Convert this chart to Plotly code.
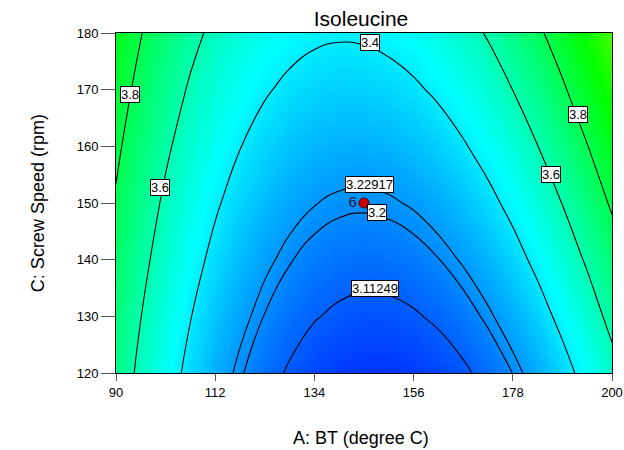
import plotly.graph_objects as go

# A: BT (degree C) and C: Screw Speed (rpm) grid
bt_values = [90, 95.5, 101, 106.5, 112, 117.5, 123, 128.5, 134, 139.5, 145,
             150.5, 156, 161.5, 167, 172.5, 178, 183.5, 189, 194.5, 200]
speed_values = [120, 130, 140, 150, 160, 170, 180]

# estimated Isoleucine response, one row per screw speed
isoleucine = [
    [3.687, 3.568, 3.460, 3.365, 3.281, 3.209, 3.149, 3.101, 3.065, 3.041, 3.028,
     3.027, 3.038, 3.061, 3.096, 3.143, 3.201, 3.271, 3.353, 3.447, 3.553],
    [3.718, 3.602, 3.497, 3.404, 3.323, 3.254, 3.197, 3.152, 3.118, 3.097, 3.087,
     3.089, 3.103, 3.128, 3.166, 3.215, 3.276, 3.349, 3.434, 3.531, 3.640],
    [3.751, 3.638, 3.536, 3.446, 3.368, 3.302, 3.247, 3.205, 3.174, 3.155, 3.148,
     3.153, 3.169, 3.198, 3.238, 3.290, 3.354, 3.430, 3.518, 3.617, 3.728],
    [3.787, 3.676, 3.577, 3.490, 3.415, 3.351, 3.300, 3.260, 3.232, 3.216, 3.211,
     3.219, 3.238, 3.269, 3.312, 3.367, 3.434, 3.513, 3.603, 3.705, 3.819],
    [3.825, 3.717, 3.621, 3.536, 3.464, 3.403, 3.354, 3.317, 3.292, 3.278, 3.277,
     3.287, 3.309, 3.343, 3.389, 3.447, 3.516, 3.598, 3.691, 3.796, 3.913],
    [3.865, 3.760, 3.667, 3.585, 3.515, 3.457, 3.411, 3.377, 3.354, 3.344, 3.345,
     3.358, 3.383, 3.419, 3.468, 3.528, 3.601, 3.685, 3.781, 3.889, 4.008],
    [3.908, 3.805, 3.715, 3.636, 3.569, 3.513, 3.470, 3.439, 3.419, 3.411, 3.415,
     3.431, 3.458, 3.498, 3.549, 3.612, 3.687, 3.774, 3.873, 3.984, 4.106],
]

contour_levels = [3.11249, 3.2, 3.22917, 3.4, 3.6, 3.8]

# contour label text and where it sits (x, y in data units)
label_texts = ["3.8", "3.6", "3.4", "3.22917", "3.2", "3.11249", "3.8", "3.6"]
label_x = [93.0, 99.8, 146.3, 146.3, 147.8, 147.5, 192.4, 186.4]
label_y = [169.1, 152.7, 178.3, 153.3, 148.3, 134.9, 165.6, 155.0]

# design centre point (6 replicates)
center_bt = [145]
center_speed = [150]
center_count = ["6"]

FONT = "Liberation Sans, Arial, sans-serif"

fig = go.Figure()

# -----------------------------
# colour gradient
# -----------------------------
fig.add_trace(
    go.Heatmap(
        x=bt_values,
        y=speed_values,
        z=isoleucine,
        zsmooth="best",
        zmin=2.92,
        zmax=5.0,
        colorscale=[
            [0.0, "#0000ff"],
            [0.25, "#00ffff"],
            [0.5, "#00ff00"],
            [0.75, "#ffff00"],
            [1.0, "#ff0000"],
        ],
        showscale=False,
        hoverinfo="skip",
    )
)

# -----------------------------
# contour lines, one per level
# -----------------------------
for level in contour_levels:
    fig.add_trace(
        go.Contour(
            x=bt_values,
            y=speed_values,
            z=isoleucine,
            autocontour=False,
            contours=dict(start=level, end=level, size=0.01, coloring="none"),
            line=dict(color="black", width=1.1, smoothing=1.3),
            showscale=False,
            hoverinfo="skip",
        )
    )

# -----------------------------
# centre point
# -----------------------------
fig.add_trace(
    go.Scatter(
        x=center_bt,
        y=center_speed,
        mode="markers+text",
        text=center_count,
        textposition="middle left",
        textfont=dict(family=FONT, size=15, color="#222222"),
        marker=dict(size=10, color="#cc0000", line=dict(color="#5a0000", width=1)),
        showlegend=False,
        hoverinfo="skip",
    )
)

annotations = []
for txt, lx, ly in zip(label_texts, label_x, label_y):
    annotations.append(
        dict(
            x=lx, y=ly, xref="x", yref="y", text=txt, showarrow=False,
            font=dict(family=FONT, size=13, color="black"),
            bgcolor="white", bordercolor="black", borderwidth=1, borderpad=0,
        )
    )

# axis titles
annotations.append(
    dict(x=0.494, y=-0.19, xref="paper", yref="paper", text="A: BT (degree C)",
         xanchor="center", yanchor="middle", showarrow=False,
         font=dict(family=FONT, size=18, color="black"))
)
annotations.append(
    dict(x=-0.157, y=0.5, xref="paper", yref="paper", text="C: Screw Speed (rpm)",
         xanchor="center", yanchor="middle", textangle=-90, showarrow=False,
         font=dict(family=FONT, size=18, color="black"))
)

fig.update_layout(
    width=624,
    height=450,
    margin=dict(l=116, r=12, t=33, b=77),
    paper_bgcolor="white",
    plot_bgcolor="white",
    title=dict(
        text="Isoleucine",
        x=0.494, xref="paper", y=0.958, yref="container",
        xanchor="center", yanchor="middle", automargin=False,
        font=dict(family=FONT, size=21, color="black"),
    ),
    xaxis=dict(
        range=[90, 200],
        tickvals=[90, 112, 134, 156, 178, 200],
        ticks="outside", ticklen=7, tickcolor="#555555",
        showline=True, mirror=True, linecolor="black", linewidth=1,
        showgrid=False, zeroline=False, automargin=False,
        tickfont=dict(family=FONT, size=13, color="black"),
    ),
    yaxis=dict(
        range=[120, 180],
        tickvals=speed_values,
        ticks="outside", ticklen=14, tickcolor="#555555",
        showline=True, mirror=True, linecolor="black", linewidth=1,
        showgrid=False, zeroline=False, automargin=False,
        tickfont=dict(family=FONT, size=13, color="black"),
    ),
    annotations=annotations,
    showlegend=False,
)

# drop the default page margin so the figure fills the window exactly
fig.write_html(
    "out.html",
    config={"displayModeBar": False},
    post_script="document.body.style.margin = '0';",
)
